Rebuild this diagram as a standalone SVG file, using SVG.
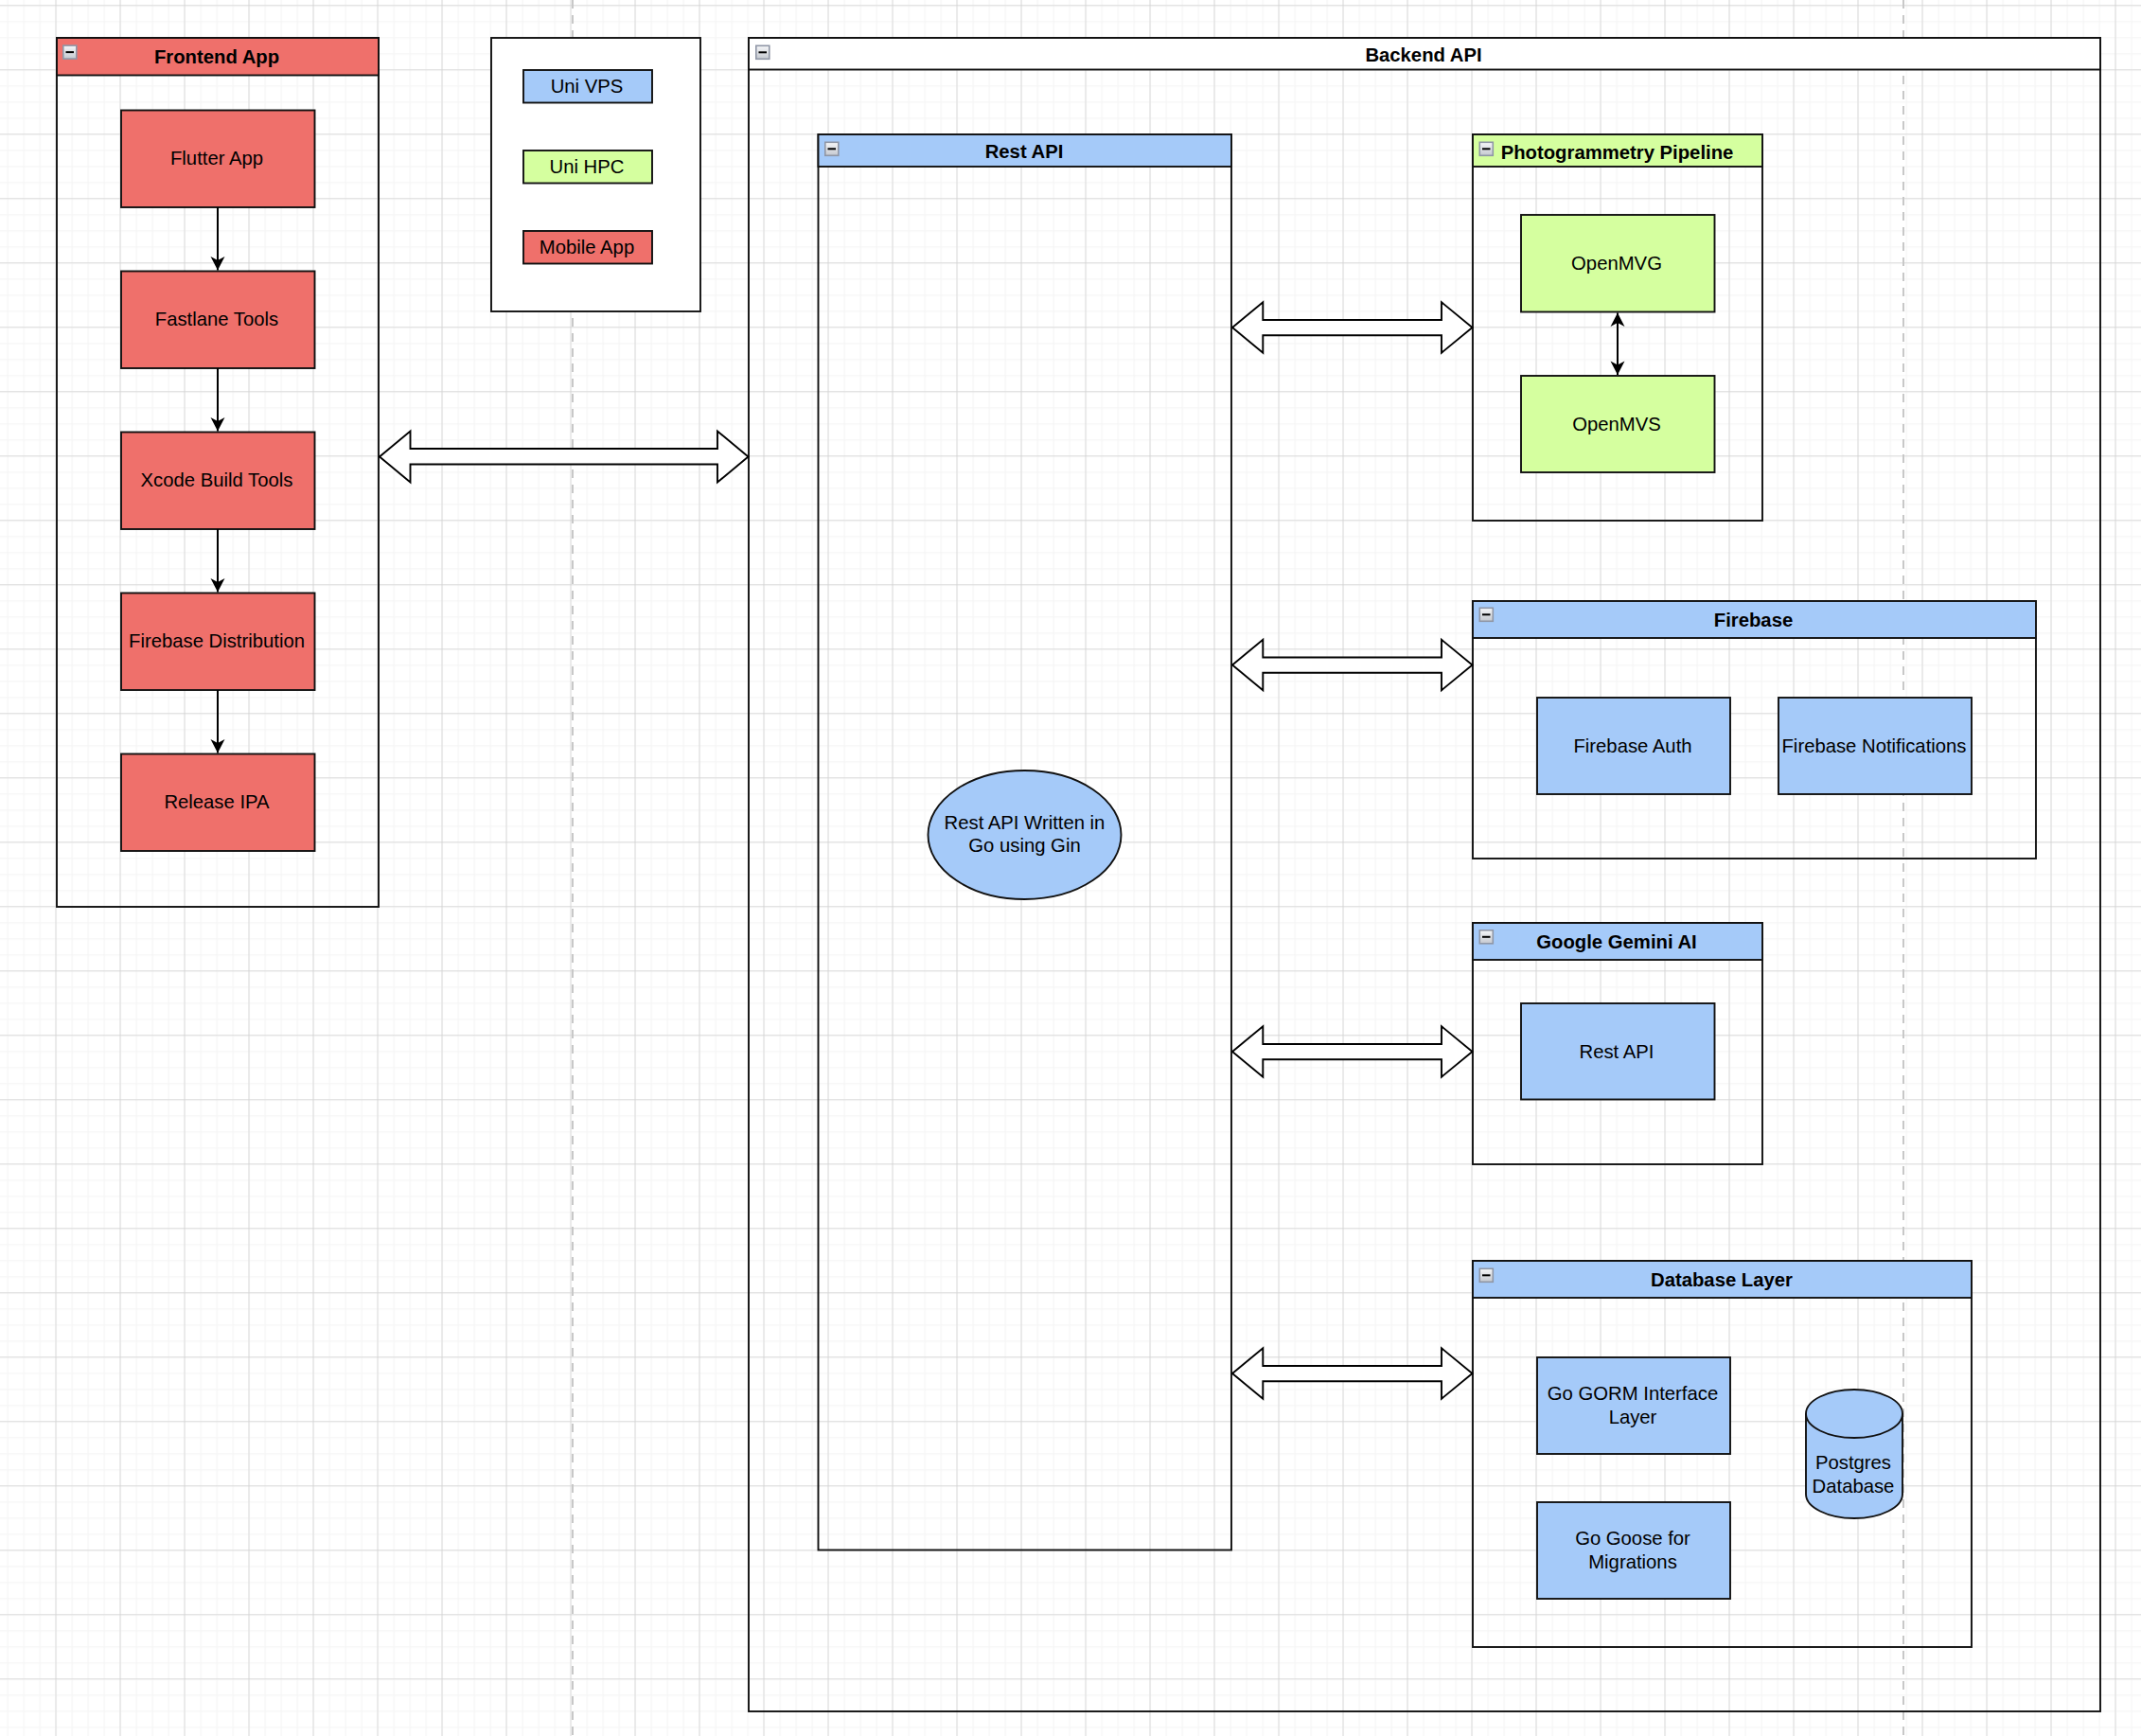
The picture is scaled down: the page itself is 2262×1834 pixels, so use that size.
<svg xmlns="http://www.w3.org/2000/svg" xmlns:xlink="http://www.w3.org/1999/xlink" width="2262" height="1834" viewBox="0 0 2262 1834">
<style>
text{font-family:"Liberation Sans",Arial,sans-serif;font-size:20.3px;fill:#000;text-anchor:middle}
.h{font-weight:bold}
.s{stroke:#111;stroke-width:1.9}
.red{fill:#EF706B}.blue{fill:#A5CAF9}.green{fill:#D5FF9F}.white{fill:#fff}.none{fill:none}
.wire{fill:none;stroke:#000;stroke-width:2}
.big{fill:#fff;stroke:#000;stroke-width:1.9;stroke-linejoin:miter}
</style>
<defs>
<pattern id="minor" width="17" height="17" patternUnits="userSpaceOnUse" x="7.5" y="5.3">
<path d="M0 0H17M0 0V17" fill="none" stroke="#f5f5f5" stroke-width="2.6"/>
</pattern>
<pattern id="major" width="68" height="68" patternUnits="userSpaceOnUse" x="58.5" y="5.3">
<path d="M0 0H68M0 0V68" fill="none" stroke="#d2d2d2" stroke-width="1.5"/>
</pattern>
<linearGradient id="ig" x1="0" y1="0" x2="0" y2="1"><stop offset="0" stop-color="#f6f7f9"/><stop offset="1" stop-color="#c4c8cf"/></linearGradient>
<g id="icon"><rect x="0.8" y="0.8" width="14" height="14" fill="url(#ig)" stroke="#8f96a6" stroke-width="1.6"/><rect x="3.5" y="6.8" width="8.5" height="2" fill="#000"/></g>
<marker id="ah" markerUnits="userSpaceOnUse" markerWidth="17" markerHeight="17" refX="15" refY="8.5" orient="auto-start-reverse" viewBox="0 0 17 17">
<path d="M0.5 1L15 8.5L0.5 16L4.5 8.5Z" fill="#000"/>
</marker>
</defs>
<rect width="2262" height="1834" fill="#fff"/>
<rect width="2262" height="1834" fill="url(#minor)"/>
<rect width="2262" height="1834" fill="url(#major)"/>
<g id="guides" fill="none" stroke="#c8c8c8" stroke-width="2" stroke-dasharray="9 7">
<path d="M605 0V1834"/><path d="M2011 0V1834"/>
</g>

<g id="frontend">
<rect class="none s" x="60" y="40" width="340" height="918"/>
<rect class="red s" x="60" y="40" width="340" height="39.5"/>
<use xlink:href="#icon" href="#icon" x="66" y="47.3"/>
<text class="h" x="229" y="67">Frontend App</text>
</g>
<g id="flutter"><rect class="red s" x="128" y="116.5" width="204.5" height="102.5"/><text x="229" y="173.5">Flutter App</text></g>
<g id="fastlane"><rect class="red s" x="128" y="286.5" width="204.5" height="102.5"/><text x="229" y="344">Fastlane Tools</text></g>
<g id="xcode"><rect class="red s" x="128" y="456.5" width="204.5" height="102.5"/><text x="229" y="513.5">Xcode Build Tools</text></g>
<g id="firebase-dist"><rect class="red s" x="128" y="626.5" width="204.5" height="102.5"/><text x="229" y="684">Firebase Distribution</text></g>
<g id="release"><rect class="red s" x="128" y="796.5" width="204.5" height="102.5"/><text x="229" y="853.5">Release IPA</text></g>

<g id="legend">
<rect class="white s" x="519" y="40" width="221" height="289"/>
<rect class="blue s" x="553" y="74" width="136" height="34.5"/><text x="620" y="97.5">Uni VPS</text>
<rect class="green s" x="553" y="159" width="136" height="34.5"/><text x="620" y="182.5">Uni HPC</text>
<rect class="red s" x="553" y="244" width="136" height="34.5"/><text x="620" y="268">Mobile App</text>
</g>

<g id="backend">
<rect class="none s" x="791" y="40" width="1428" height="1768"/>
<rect class="white s" x="791" y="40" width="1428" height="33.5"/>
<use xlink:href="#icon" href="#icon" x="798" y="47.5"/>
<text class="h" x="1504" y="65">Backend API</text>
</g>

<g id="restapi">
<rect class="none s" x="864.5" y="142" width="436.5" height="1495.5"/>
<rect class="blue s" x="864.5" y="142" width="436.5" height="34"/>
<use xlink:href="#icon" href="#icon" x="871" y="149.5"/>
<text class="h" x="1082" y="167">Rest API</text>
</g>
<g id="restapi-ellipse"><ellipse class="blue s" cx="1082.5" cy="882" rx="102" ry="68"/><text x="1082.5" y="876">Rest API Written in</text><text x="1082.5" y="900">Go using Gin</text></g>

<g id="photogrammetry">
<rect class="none s" x="1556" y="142" width="306" height="408"/>
<rect class="green s" x="1556" y="142" width="306" height="34"/>
<use xlink:href="#icon" href="#icon" x="1562.5" y="149.5"/>
<text class="h" x="1708.5" y="167.5">Photogrammetry Pipeline</text>
</g>
<g id="openmvg"><rect class="green s" x="1607" y="227" width="204.5" height="102.5"/><text x="1708" y="285">OpenMVG</text></g>
<g id="openmvs"><rect class="green s" x="1607" y="397" width="204.5" height="102"/><text x="1708" y="455">OpenMVS</text></g>

<g id="firebase">
<rect class="none s" x="1556" y="635" width="595" height="272"/>
<rect class="blue s" x="1556" y="635" width="595" height="39"/>
<use xlink:href="#icon" href="#icon" x="1562.5" y="641.5"/>
<text class="h" x="1852.5" y="662">Firebase</text>
</g>
<g id="firebase-auth"><rect class="blue s" x="1624" y="737" width="204" height="102"/><text x="1725" y="795">Firebase Auth</text></g>
<g id="firebase-notif"><rect class="blue s" x="1879" y="737" width="204" height="102"/><text x="1980" y="795">Firebase Notifications</text></g>

<g id="gemini">
<rect class="none s" x="1556" y="975" width="306" height="255"/>
<rect class="blue s" x="1556" y="975" width="306" height="39"/>
<use xlink:href="#icon" href="#icon" x="1562.5" y="982"/>
<text class="h" x="1708" y="1002">Google Gemini AI</text>
</g>
<g id="gemini-rest"><rect class="blue s" x="1607" y="1060" width="204.5" height="101.5"/><text x="1708" y="1117.5">Rest API</text></g>

<g id="database">
<rect class="none s" x="1556" y="1332" width="527" height="408"/>
<rect class="blue s" x="1556" y="1332" width="527" height="39"/>
<use xlink:href="#icon" href="#icon" x="1562.5" y="1339.5"/>
<text class="h" x="1819" y="1359">Database Layer</text>
</g>
<g id="gorm"><rect class="blue s" x="1624" y="1434" width="204" height="102"/><text x="1725" y="1479">Go GORM Interface</text><text x="1725" y="1504">Layer</text></g>
<g id="goose"><rect class="blue s" x="1624" y="1587" width="204" height="102"/><text x="1725" y="1632">Go Goose for</text><text x="1725" y="1657">Migrations</text></g>
<g id="postgres">
<path class="blue s" d="M1908 1493.5C1908 1479.5 1931 1468 1959 1468C1987 1468 2010 1479.5 2010 1493.5V1578.5C2010 1592.5 1987 1604 1959 1604C1931 1604 1908 1592.5 1908 1578.5Z"/>
<path class="none s" d="M1908 1493.5C1908 1507.5 1931 1519 1959 1519C1987 1519 2010 1507.5 2010 1493.5"/>
<text x="1958" y="1552">Postgres</text><text x="1958" y="1577">Database</text>
</g>

<g id="connectors">
<path class="wire" marker-end="url(#ah)" d="M230 219V285.5"/>
<path class="wire" marker-end="url(#ah)" d="M230 389V455.5"/>
<path class="wire" marker-end="url(#ah)" d="M230 559V625.5"/>
<path class="wire" marker-end="url(#ah)" d="M230 729V795.5"/>
<path class="wire" marker-start="url(#ah)" marker-end="url(#ah)" d="M1709 330.5V396"/>
<path class="big" d="M401 482.5L433.5 455.5V474H758V455.5L790.5 482.5L758 509.5V490.5H433.5V509.5Z"/>
<path class="big" d="M1302 346L1334.3 319.3V338H1523V319.3L1555.5 346L1523 372.7V354.3H1334.3V372.7Z"/>
<path class="big" d="M1302 702.5L1334.3 675.8V694.5H1523V675.8L1555.5 702.5L1523 729.2V710.8H1334.3V729.2Z"/>
<path class="big" d="M1302 1111L1334.3 1084.3V1103H1523V1084.3L1555.5 1111L1523 1137.7V1119.3H1334.3V1137.7Z"/>
<path class="big" d="M1302 1451L1334.3 1424.3V1443H1523V1424.3L1555.5 1451L1523 1477.7V1459.3H1334.3V1477.7Z"/>
</g>
</svg>
